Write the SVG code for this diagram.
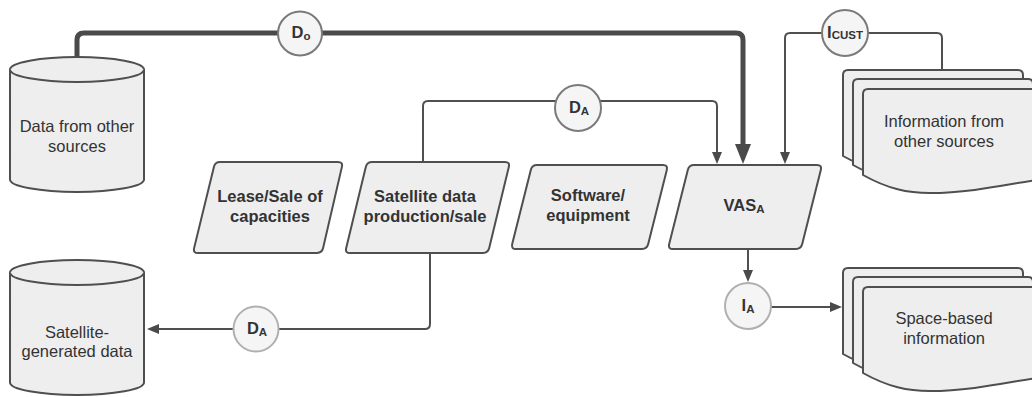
<svg xmlns="http://www.w3.org/2000/svg" width="1032" height="397" viewBox="0 0 1032 397">
<style>
.shape{fill:#eeeeee;stroke:#4f4f4f;stroke-width:2;stroke-linejoin:round}
.conn{fill:none;stroke:#505050;stroke-width:2}
.thick{fill:none;stroke:#4a4a4a;stroke-width:5}
.circ{fill:#f5f5f5;stroke:#7a7a7a;stroke-width:2}
.circ2{fill:#f5f5f5;stroke:#b0b0b0;stroke-width:2}
.t{font-family:"Liberation Sans",Arial,sans-serif;font-size:16.5px;fill:#333;text-anchor:middle}
.b{font-family:"Liberation Sans",Arial,sans-serif;font-size:16.5px;font-weight:bold;fill:#333;text-anchor:middle}
.sub{font-size:11.5px}
</style>
<defs>
<marker id="arr" markerUnits="userSpaceOnUse" markerWidth="12" markerHeight="10" refX="0" refY="5" orient="auto">
<path d="M0,0 L12,5 L0,10 Z" fill="#4a4a4a"/>
</marker>
<marker id="arrBig" markerUnits="userSpaceOnUse" markerWidth="20" markerHeight="16" refX="0" refY="8" orient="auto">
<path d="M0,0 L20,8 L0,16 Z" fill="#4a4a4a"/>
</marker>
<path id="sheet" d="M0,5 Q0,0 5,0 H175 Q180,0 180,5 V90 C150,94 110,104 67,104 C45,104 25,100 0,86 Z"/>
</defs>

<g id="connectors">
<path class="thick" d="M77,57 V40 Q77,33 84,33 H736 Q743,33 743,40 V144" marker-end="url(#arrBig)"/>
<path class="conn" d="M423,162 V106 Q423,101 428,101 H712 Q717,101 717,106 V152" marker-end="url(#arr)"/>
<path class="conn" d="M942,70 V38 Q942,33 937,33 H790 Q785,33 785,38 V152" marker-end="url(#arr)"/>
<path class="conn" d="M748,249 V270" marker-end="url(#arr)"/>
<path class="conn" d="M771,307 H830" marker-end="url(#arr)"/>
<path class="conn" d="M430,253 V324 Q430,329 425,329 H159" marker-end="url(#arr)"/>
</g>

<g id="data-other">
<path class="shape" d="M10,69.5 A67,12.5 0 0 1 144,69.5 V179.5 A67,12.5 0 0 1 10,179.5 Z"/>
<path class="shape" d="M10,69.5 A67,12.5 0 0 0 144,69.5"/>
<text class="t" x="77" y="132">Data from other</text>
<text class="t" x="77" y="152">sources</text>
</g>

<g id="sat-generated">
<path class="shape" d="M10,272.5 A67,12.5 0 0 1 144,272.5 V382.5 A67,12.5 0 0 1 10,382.5 Z"/>
<path class="shape" d="M10,272.5 A67,12.5 0 0 0 144,272.5"/>
<text class="t" x="77" y="338">Satellite-</text>
<text class="t" x="77" y="357">generated data</text>
</g>

<g id="lease">
<path class="shape" d="M220,162 H338 Q343,162 341.9,166.9 L323.1,248.1 Q322,253 317,253 H198 Q193,253 194.1,248.1 L213.9,166.9 Q215,162 220,162 Z"/>
<text class="b" x="270" y="202">Lease/Sale of</text>
<text class="b" x="270" y="222">capacities</text>
</g>

<g id="satellite-data">
<path class="shape" d="M372,162 H505 Q510,162 508.8,166.9 L489.2,248.1 Q488,253 483,253 H350 Q345,253 346.2,248.1 L365.8,166.9 Q367,162 372,162 Z"/>
<text class="b" x="425" y="202">Satellite data</text>
<text class="b" x="425" y="222">production/sale</text>
</g>

<g id="software">
<path class="shape" d="M537,165 H663 Q668,165 666.8,169.9 L648.2,244.1 Q647,249 642,249 H516 Q511,249 512.2,244.1 L530.8,169.9 Q532,165 537,165 Z"/>
<text class="b" x="588" y="201">Software/</text>
<text class="b" x="588" y="221">equipment</text>
</g>

<g id="vas">
<path class="shape" d="M694,165 H817 Q822,165 820.8,169.9 L802.2,244.1 Q801,249 796,249 H673 Q668,249 669.2,244.1 L687.8,169.9 Q689,165 694,165 Z"/>
<text class="b" x="744" y="211">VAS<tspan class="sub" dy="2">A</tspan></text>
</g>

<g id="info-other">
<use href="#sheet" class="shape" x="843" y="70"/>
<use href="#sheet" class="shape" x="853" y="79"/>
<use href="#sheet" class="shape" x="863" y="89"/>
<text class="t" x="944" y="127">Information from</text>
<text class="t" x="944" y="147">other sources</text>
</g>

<g id="space-info">
<use href="#sheet" class="shape" x="843" y="268"/>
<use href="#sheet" class="shape" x="853" y="277"/>
<use href="#sheet" class="shape" x="863" y="287"/>
<text class="t" x="944" y="324">Space-based</text>
<text class="t" x="944" y="344">information</text>
</g>

<g id="d-o">
<circle class="circ" cx="300" cy="33.5" r="22"/>
<text class="b" x="301" y="38">D<tspan class="sub" dy="2">o</tspan></text>
</g>

<g id="d-a-top">
<circle class="circ" cx="578" cy="108" r="23"/>
<text class="b" x="579" y="113">D<tspan class="sub" dy="2">A</tspan></text>
</g>

<g id="i-cust">
<circle class="circ" cx="845" cy="33" r="23"/>
<text class="b" x="845" y="38">I<tspan class="sub" dy="1">CUST</tspan></text>
</g>

<g id="d-a-bottom">
<circle class="circ2" cx="256" cy="329" r="22.5"/>
<text class="b" x="257" y="334">D<tspan class="sub" dy="2">A</tspan></text>
</g>

<g id="i-a">
<circle class="circ2" cx="748" cy="306" r="23"/>
<text class="b" x="748" y="311">I<tspan class="sub" dy="2">A</tspan></text>
</g>
</svg>
